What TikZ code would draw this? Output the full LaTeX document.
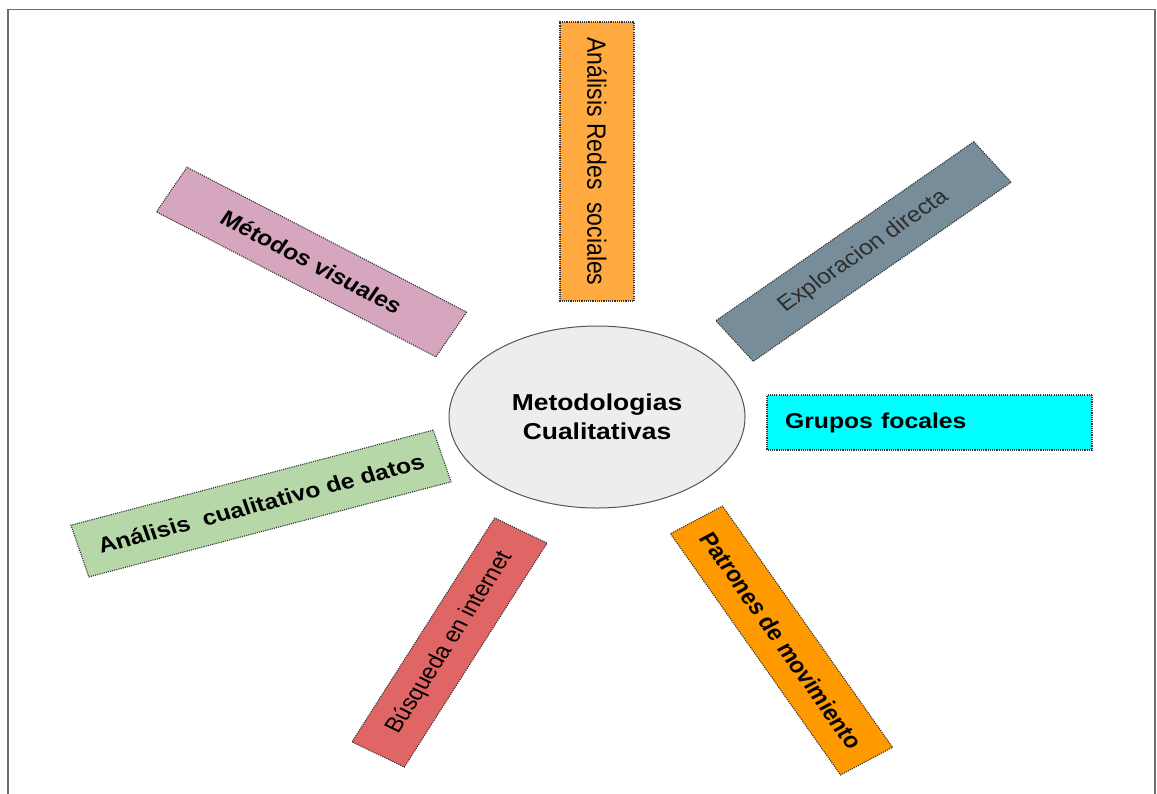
\documentclass[tikz,border=0pt]{standalone}
\usepackage{fontspec}
\setmainfont{Liberation Sans}
\usetikzlibrary{shapes.geometric}
\definecolor{cRedes}{RGB}{255,170,64}
\definecolor{cMetodos}{RGB}{213,166,189}
\definecolor{cExplor}{RGB}{119,141,153}
\definecolor{cGrupos}{RGB}{0,255,255}
\definecolor{cAnalisis}{RGB}{182,215,168}
\definecolor{cBusqueda}{RGB}{224,102,102}
\definecolor{cPatrones}{RGB}{255,153,0}
\definecolor{cEllFill}{RGB}{237,237,237}
\definecolor{cEllDraw}{RGB}{85,85,85}
\definecolor{cFrame}{RGB}{110,110,110}
\tikzset{
  methodbox/.style={draw=black!80, line width=1.1pt, dash pattern=on 1.1pt off 1.1pt,
    rectangle, inner sep=0pt, minimum height=52pt, transform shape, text=black,
    font=\fontsize{21.5}{26}\selectfont},
  boldbox/.style={methodbox, font=\fontsize{21.5}{26}\selectfont\bfseries},
}
\begin{document}
\begin{tikzpicture}[x=1pt, y=-1pt]
\useasboundingbox (0,0) rectangle (1157,793);
% frame
\draw[cFrame, line width=1.6pt] (8,800) -- (8,9.5) -- (1155,9.5) -- (1155,800);
\begin{scope}[xscale=1.15]
\node[ellipse, draw=cEllDraw, line width=1pt, fill=cEllFill, minimum width=257.4pt,
  minimum height=182pt, inner sep=0pt, transform shape, align=center,
  font=\fontsize{23}{29}\selectfont\bfseries] (centro) at ({597/1.15},417) {Metodologias\\Cualitativas};
\node[methodbox, fill=cRedes, rotate=-90, minimum width=279pt, minimum height=64.3pt,
  font=\fontsize{23}{27}\selectfont] (redes) at ({597/1.15},161.5) {Análisis Redes\ \ sociales};
\node[boldbox, fill=cMetodos, rotate=-30.8, minimum width=283pt] (metodos) at ({311.5/1.15},262) {Métodos visuales};
\node[methodbox, fill=cExplor, rotate=38.6, minimum width=287pt, text=black!82] (explor) at ({863.5/1.15},251.5) {Exploracion directa};
\node[boldbox, fill=cGrupos, minimum height=55pt, text width=251.2pt, inner xsep=15.7pt, align=left] (grupos) at ({929.5/1.15},422.5) {Grupos focales};
\node[boldbox, fill=cAnalisis, rotate=16.8, minimum width=329pt, minimum height=54pt] (analisis) at ({261/1.15},503.5) {Análisis\ \ cualitativo de datos};
\node[methodbox, fill=cBusqueda, rotate=61.0, minimum width=256pt] (busqueda) at ({449.5/1.15},642.5) {Búsqueda en internet};
\node[boldbox, fill=cPatrones, rotate=-58.5, minimum width=283pt, minimum height=53pt] (patrones) at ({781.5/1.15},640.5) {Patrones de movimiento};
\end{scope}
\end{tikzpicture}
\end{document}
